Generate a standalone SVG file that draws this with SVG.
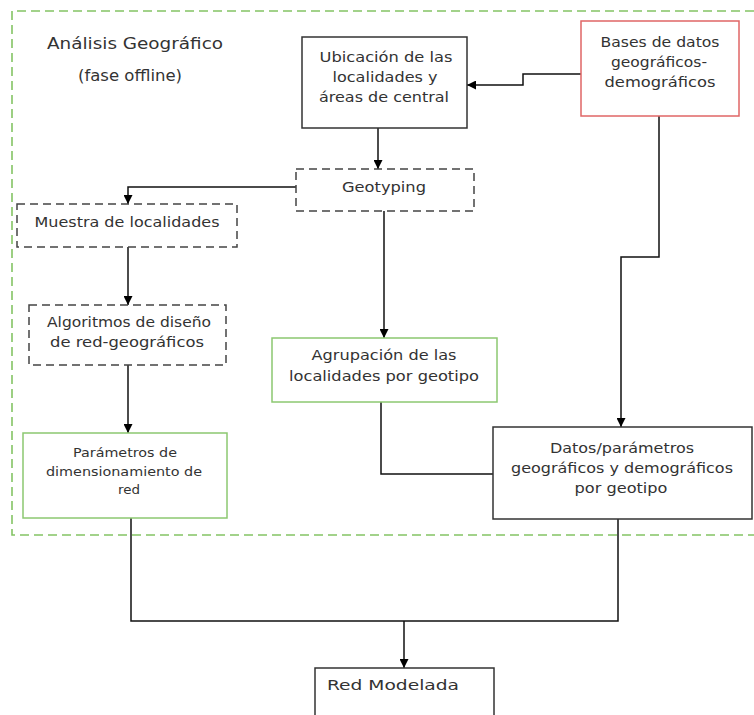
<svg xmlns="http://www.w3.org/2000/svg" width="754" height="715" viewBox="0 0 754 715">
<defs>
<marker id="arr" markerUnits="userSpaceOnUse" markerWidth="9" markerHeight="9" viewBox="0 0 10 10" refX="10" refY="5" orient="auto">
<path d="M0,0 L10,5 L0,10 z" fill="#000"/>
</marker>
<style>
.t{font-family:"DejaVu Sans","Liberation Sans",sans-serif;font-size:14px;fill:#333;text-anchor:middle}
.s{font-size:13px}
.solid{fill:#fff;stroke:#333;stroke-width:1.5}
.dash{fill:#fff;stroke:#444;stroke-width:1.5;stroke-dasharray:8 5}
.green{fill:#fff;stroke:#8cc870;stroke-width:1.5}
.red{fill:#fff;stroke:#e06666;stroke-width:1.5}
.c{fill:none;stroke:#111;stroke-width:1.5}
</style>
</defs>
<rect width="754" height="715" fill="#fff"/>
<g id="region">
<path d="M754,11 H12 V535 H754" fill="none" stroke="#84c464" stroke-width="1.6" stroke-dasharray="9 5"/>
<text class="t" x="135" y="49" style="font-size:16px" textLength="176" lengthAdjust="spacingAndGlyphs">Análisis Geográfico</text>
<text class="t" x="130" y="81" style="font-size:16px" textLength="104" lengthAdjust="spacingAndGlyphs">(fase offline)</text>
</g>
<g id="connectors">
<path class="c" d="M581,74 H523 V85 H467" marker-end="url(#arr)"/>
<path class="c" d="M378,128 V169" marker-end="url(#arr)"/>
<path class="c" d="M296,187 H128 V204" marker-end="url(#arr)"/>
<path class="c" d="M128,247 V305" marker-end="url(#arr)"/>
<path class="c" d="M128,365 V433" marker-end="url(#arr)"/>
<path class="c" d="M384,211 V338" marker-end="url(#arr)"/>
<path class="c" d="M659,116 V257 H621 V427" marker-end="url(#arr)"/>
<path class="c" d="M381,402 V474 H493"/>
<path class="c" d="M131,518 V621 H618 V519"/>
<path class="c" d="M404,621 V668" marker-end="url(#arr)"/>
</g>
<g id="ubicacion">
<rect class="solid" x="302" y="37" width="165" height="91"/>
<text class="t" x="386" y="62" textLength="133" lengthAdjust="spacingAndGlyphs">Ubicación de las</text>
<text class="t" x="385" y="82" textLength="105" lengthAdjust="spacingAndGlyphs">localidades y</text>
<text class="t" x="384" y="102" textLength="130" lengthAdjust="spacingAndGlyphs">áreas de central</text>
</g>
<g id="bases">
<rect class="red" x="581" y="21" width="158" height="95"/>
<text class="t" x="660" y="47" textLength="119" lengthAdjust="spacingAndGlyphs">Bases de datos</text>
<text class="t" x="659" y="67" textLength="96" lengthAdjust="spacingAndGlyphs">geográficos-</text>
<text class="t" x="660" y="87" textLength="111" lengthAdjust="spacingAndGlyphs">demográficos</text>
</g>
<g id="geotyping">
<rect class="dash" x="296" y="169" width="178" height="42"/>
<text class="t" x="384" y="192" textLength="84" lengthAdjust="spacingAndGlyphs">Geotyping</text>
</g>
<g id="muestra">
<rect class="dash" x="17" y="204" width="220" height="43"/>
<text class="t" x="127" y="227" textLength="185" lengthAdjust="spacingAndGlyphs">Muestra de localidades</text>
</g>
<g id="algoritmos">
<rect class="dash" x="29" y="305" width="197" height="60"/>
<text class="t" x="129" y="327" textLength="164" lengthAdjust="spacingAndGlyphs">Algoritmos de diseño</text>
<text class="t" x="127" y="347" textLength="154" lengthAdjust="spacingAndGlyphs">de red-geográficos</text>
</g>
<g id="agrupacion">
<rect class="green" x="272" y="338" width="225" height="64"/>
<text class="t" x="384" y="360" textLength="145" lengthAdjust="spacingAndGlyphs">Agrupación de las</text>
<text class="t" x="384" y="381" textLength="190" lengthAdjust="spacingAndGlyphs">localidades por geotipo</text>
</g>
<g id="parametros">
<rect class="green" x="23" y="433" width="204" height="85"/>
<text class="t s" x="125" y="457" textLength="104" lengthAdjust="spacingAndGlyphs">Parámetros de</text>
<text class="t s" x="124" y="476" textLength="156" lengthAdjust="spacingAndGlyphs">dimensionamiento de</text>
<text class="t s" x="129" y="494" textLength="22" lengthAdjust="spacingAndGlyphs">red</text>
</g>
<g id="datos">
<rect class="solid" x="493" y="427" width="259" height="92"/>
<text class="t" x="622" y="453" textLength="144" lengthAdjust="spacingAndGlyphs">Datos/parámetros</text>
<text class="t" x="622" y="473" textLength="222" lengthAdjust="spacingAndGlyphs">geográficos y demográficos</text>
<text class="t" x="621" y="493" textLength="93" lengthAdjust="spacingAndGlyphs">por geotipo</text>
</g>
<g id="red">
<rect class="solid" x="315" y="668" width="179" height="60"/>
<text class="t" x="327" y="690" style="text-anchor:start" textLength="132" lengthAdjust="spacingAndGlyphs">Red Modelada</text>
</g>
</svg>
